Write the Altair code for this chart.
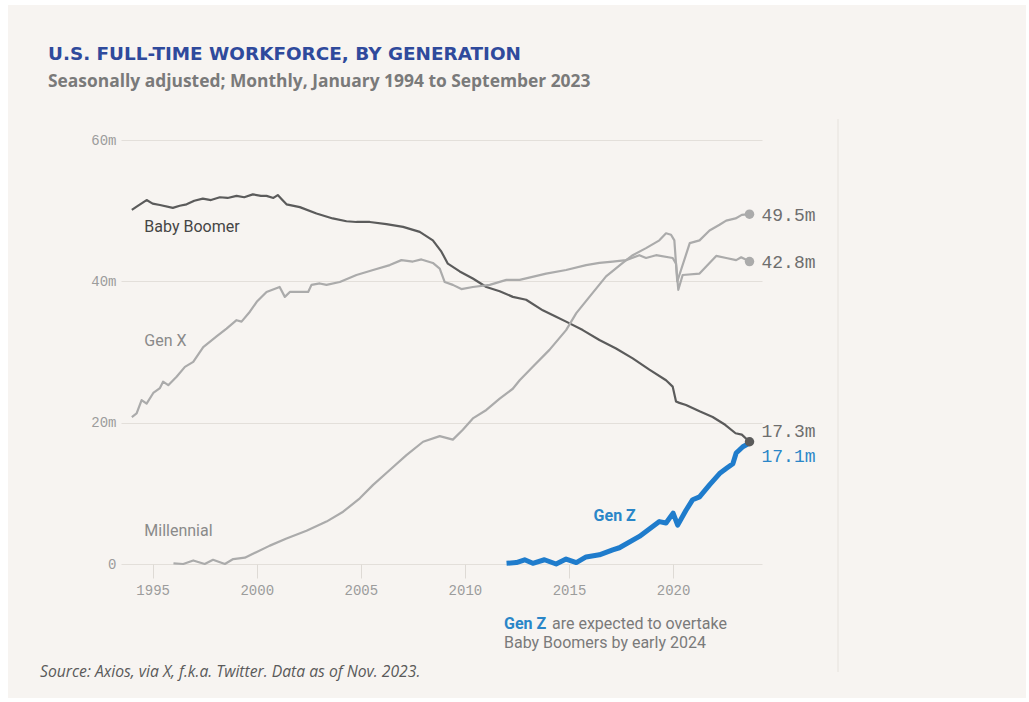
import altair as alt
import pandas as pd

# ---------------- data ----------------
boomer_years = [1994.0, 1994.25, 1994.71, 1995.0, 1995.35, 1995.97, 1996.3, 1996.63, 1997.0, 1997.41,
                1997.8, 1998.23, 1998.6, 1999.03, 1999.4, 1999.81, 2000.2, 2000.47, 2000.8, 2001.01,
                2001.2, 2001.43, 2002.07, 2002.87, 2003.65, 2004.31, 2004.79, 2005.43, 2006.23, 2007.03,
                2007.83, 2008.46, 2008.87, 2009.18, 2009.75, 2010.38, 2011.03, 2011.67, 2012.3, 2012.94,
                2013.74, 2014.38, 2014.86, 2015.66, 2016.46, 2017.26, 2018.06, 2018.86, 2019.66, 2019.98,
                2020.14, 2020.3, 2020.62, 2021.27, 2021.9, 2022.5, 2023.0, 2023.3, 2023.67]
boomer_vals = [50.1, 50.6, 51.5, 51.0, 50.8, 50.4, 50.7, 50.9, 51.4, 51.7,
               51.5, 51.9, 51.8, 52.1, 51.9, 52.3, 52.1, 52.1, 51.8, 52.2,
               51.6, 50.9, 50.5, 49.6, 48.9, 48.5, 48.4, 48.4, 48.1, 47.7,
               47.0, 45.8, 44.2, 42.5, 41.4, 40.4, 39.2, 38.6, 37.8, 37.4,
               35.9, 35.0, 34.3, 33.1, 31.7, 30.5, 29.1, 27.5, 26.0, 25.1,
               23.0, 22.8, 22.5, 21.6, 20.8, 19.7, 18.5, 18.3, 17.3]

genx_years = [1994.0, 1994.23, 1994.47, 1994.71, 1995.03, 1995.35, 1995.5, 1995.75, 1996.15, 1996.55,
              1996.95, 1997.43, 1998.07, 1998.55, 1999.03, 1999.27, 1999.67, 2000.0, 2000.47, 2001.1,
              2001.35, 2001.59, 2002.07, 2002.47, 2002.63, 2003.03, 2003.35, 2003.99, 2004.79, 2005.59,
              2006.39, 2006.95, 2007.5, 2007.91, 2008.46, 2008.79, 2009.03, 2009.42, 2009.83, 2010.38,
              2011.19, 2011.99, 2012.63, 2013.9, 2014.86, 2015.82, 2016.46, 2017.1, 2017.74, 2018.38,
              2018.7, 2019.18, 2019.98, 2020.14, 2020.25, 2020.46, 2021.27, 2021.75, 2022.07, 2022.55,
              2023.03, 2023.27, 2023.67]
genx_vals = [20.8, 21.3, 23.2, 22.7, 24.2, 24.9, 25.8, 25.3, 26.5, 27.9,
             28.6, 30.7, 32.2, 33.3, 34.5, 34.3, 35.7, 37.1, 38.5, 39.2,
             37.8, 38.5, 38.5, 38.5, 39.5, 39.7, 39.5, 39.9, 40.9, 41.6,
             42.3, 43.0, 42.8, 43.1, 42.6, 41.8, 39.9, 39.5, 38.9, 39.2,
             39.5, 40.2, 40.2, 41.1, 41.6, 42.3, 42.6, 42.8, 43.0, 43.7,
             43.3, 43.7, 43.3, 42.5, 38.8, 40.9, 41.1, 42.6, 43.6, 43.3,
             43.0, 43.4, 42.8]

mill_years = [1996.0, 1996.47, 1996.95, 1997.5, 1997.9, 1998.47, 1998.87, 1999.43, 2000.0, 2000.63,
              2001.43, 2002.39, 2003.35, 2004.15, 2004.95, 2005.59, 2006.39, 2007.19, 2007.99, 2008.79,
              2009.42, 2009.9, 2010.38, 2011.03, 2011.67, 2012.3, 2012.63, 2013.26, 2014.06, 2014.86,
              2015.35, 2015.98, 2016.78, 2017.58, 2018.06, 2018.7, 2019.34, 2019.66, 2019.9, 2020.06,
              2020.2, 2020.38, 2020.8, 2021.27, 2021.75, 2022.23, 2022.55, 2023.0, 2023.3, 2023.67]
mill_vals = [0.1, 0.0, 0.5, 0.0, 0.6, 0.0, 0.7, 0.9, 1.7, 2.6,
             3.6, 4.7, 6.0, 7.4, 9.3, 11.2, 13.3, 15.4, 17.3, 18.1,
             17.6, 19.0, 20.6, 21.8, 23.4, 24.8, 26.0, 27.9, 30.3, 33.1,
             35.5, 37.8, 40.7, 42.6, 43.7, 44.7, 45.8, 46.8, 46.6, 45.8,
             40.0, 41.6, 45.4, 45.8, 47.2, 48.0, 48.6, 48.9, 49.4, 49.5]

genz_years = [2012.0, 2012.47, 2012.87, 2013.26, 2013.82, 2014.38, 2014.86, 2015.35, 2015.82, 2016.46,
              2017.1, 2017.42, 2018.38, 2019.34, 2019.66, 2020.0, 2020.22, 2020.62, 2020.94, 2021.27,
              2021.75, 2022.23, 2022.55, 2022.87, 2023.03, 2023.35, 2023.67]
genz_vals = [0.1, 0.2, 0.6, 0.1, 0.6, 0.0, 0.7, 0.2, 1.0, 1.3,
             2.0, 2.3, 3.9, 6.0, 5.8, 7.2, 5.5, 7.6, 9.1, 9.5,
             11.2, 12.8, 13.5, 14.2, 15.7, 16.6, 17.1]

series_names = ["Baby Boomer", "Gen X", "Millennial", "Gen Z"]
series_colors = ["#5b5b5b", "#ababab", "#ababab", "#1f7ccc"]
series_widths = [2.2, 2.2, 2.2, 5]

label_names = ["Baby Boomer", "Gen X", "Millennial"]
label_years = [1994.6, 1994.6, 1994.6]
label_vals = [47.0, 30.9, 3.96]
label_colors = ["#454545", "#8a8a8a", "#8a8a8a"]

end_texts = ["49.5m", "42.8m", "17.3m", "17.1m"]
end_vals = [49.5, 42.8, 17.3, 17.1]
end_year = 2023.67
end_colors = ["#6e6e6e", "#6e6e6e", "#6e6e6e", "#2a86c8"]

x_ticks = [1995, 2000, 2005, 2010, 2015, 2020]
y_ticks = [0, 20, 40, 60]

BEIGE = "#f7f4f1"
W, H = 641, 424
PAD_L, PAD_T = 121, 140

x_scale = alt.Scale(domain=[1993.48, 2024.27], nice=False, zero=False)
y_scale = alt.Scale(domain=[0, 60], nice=False)

frames = []
for name, yrs, vals in [("Baby Boomer", boomer_years, boomer_vals),
                        ("Gen X", genx_years, genx_vals),
                        ("Millennial", mill_years, mill_vals),
                        ("Gen Z", genz_years, genz_vals)]:
    frames.append(pd.DataFrame({"series": name, "year": yrs, "value": vals}))

one = pd.DataFrame({"a": [0]})

layers = []

# white frame around the beige panel
layers.append(alt.Chart(one).mark_rect(fillOpacity=0, stroke="white", strokeWidth=10).encode(
    x=alt.value(-118), x2=alt.value(910), y=alt.value(-140), y2=alt.value(565)))

# axes layer (invisible points just to carry axes)
axis_df = pd.DataFrame({"year": [1995], "value": [0]})
layers.append(alt.Chart(axis_df).mark_point(opacity=0).encode(
    x=alt.X("year:Q", scale=x_scale, axis=alt.Axis(
        values=x_ticks, format="d", grid=False, domain=False, ticks=True, tickSize=14,
        tickColor="#dedad5", tickWidth=1, labelPadding=5, labelFont="Liberation Mono",
        labelFontSize=14, labelColor="#9c9c9c", title=None)),
    y=alt.Y("value:Q", scale=y_scale, axis=alt.Axis(
        values=y_ticks, grid=True, gridColor="#e3dfda", gridWidth=1, domain=False, ticks=False,
        labelPadding=5, labelFont="Liberation Mono", labelFontSize=14, labelColor="#9c9c9c",
        labelExpr="datum.value == 0 ? '0' : datum.value + 'm'", title=None))
))

# vertical separator on the right
layers.append(alt.Chart(one).mark_rule(color="#e6e2dd", strokeWidth=1).encode(
    x=alt.value(717), y=alt.value(-21), y2=alt.value(532)))

for df, name, col, w in zip(frames, series_names, series_colors, series_widths):
    layers.append(alt.Chart(df).mark_line(color=col, strokeWidth=w, strokeJoin="round").encode(
        x=alt.X("year:Q", scale=x_scale), y=alt.Y("value:Q", scale=y_scale)))

# end dots
dots = pd.DataFrame({"year": [end_year] * 3, "value": [49.5, 42.8, 17.3],
                     "c": ["#ababab", "#ababab", "#5b5b5b"]})
layers.append(alt.Chart(dots).mark_circle(size=90, opacity=1).encode(
    x=alt.X("year:Q", scale=x_scale), y=alt.Y("value:Q", scale=y_scale),
    color=alt.Color("c:N", scale=None)))

# end labels
end_dy = [2, 1, -10, 14]
for t, v, c, dy in zip(end_texts, end_vals, end_colors, end_dy):
    layers.append(alt.Chart(pd.DataFrame({"year": [end_year], "value": [v], "t": [t]})).mark_text(
        align="left", baseline="middle", dx=12, dy=dy, font="Liberation Mono", fontSize=18,
        color=c).encode(x=alt.X("year:Q", scale=x_scale), y=alt.Y("value:Q", scale=y_scale), text="t:N"))

# series labels
for n, yr, v, c in zip(label_names, label_years, label_vals, label_colors):
    layers.append(alt.Chart(pd.DataFrame({"year": [yr], "value": [v], "t": [n]})).mark_text(
        align="left", baseline="alphabetic", font="Roboto", fontSize=16, color=c).encode(
        x=alt.X("year:Q", scale=x_scale), y=alt.Y("value:Q", scale=y_scale), text="t:N"))

layers.append(alt.Chart(pd.DataFrame({"year": [2016.18], "value": [6.13], "t": ["Gen Z"]})).mark_text(
    align="left", baseline="alphabetic", font="Roboto", fontSize=16, fontWeight="bold",
    color="#2a86c8").encode(
    x=alt.X("year:Q", scale=x_scale), y=alt.Y("value:Q", scale=y_scale), text="t:N"))

def txt(s, x, y, **kw):
    return alt.Chart(pd.DataFrame({"t": [s]})).mark_text(align="left", baseline="alphabetic", **kw).encode(
        x=alt.value(x), y=alt.value(y), text="t:N")

# annotation under the axis
layers.append(txt("Gen Z", 383, 489, font="Roboto", fontSize=16, fontWeight="bold", color="#2a86c8"))
layers.append(txt("are expected to overtake", 431, 489, font="Roboto", fontSize=16, color="#7a7a7a"))
layers.append(txt("Baby Boomers by early 2024", 383, 508, font="Roboto", fontSize=16, color="#7a7a7a"))

# title, subtitle, source
layers.append(txt("U.S. FULL-TIME WORKFORCE, BY GENERATION", -73, -80, font="DejaVu Sans", fontSize=18.4,
                  fontWeight="bold", color="#2f4a9c"))
layers.append(txt("Seasonally adjusted; Monthly, January 1994 to September 2023", -73, -53, font="Open Sans",
                  fontSize=17.4, fontWeight="bold", color="#7a7a7a"))
layers.append(txt("Source: Axios, via X, f.k.a. Twitter. Data as of Nov. 2023.", -81, 537, font="Open Sans",
                  fontSize=15.7, fontStyle="italic", color="#5a5a5a"))

chart = alt.layer(*layers).properties(
    width=W, height=H, background=BEIGE,
    autosize=alt.AutoSizeParams(type="none"),
    padding={"left": PAD_L, "top": PAD_T, "right": 265, "bottom": 134},
).configure_view(stroke=None)

chart.save("out.html", embed_options={"renderer": "svg", "actions": False})
